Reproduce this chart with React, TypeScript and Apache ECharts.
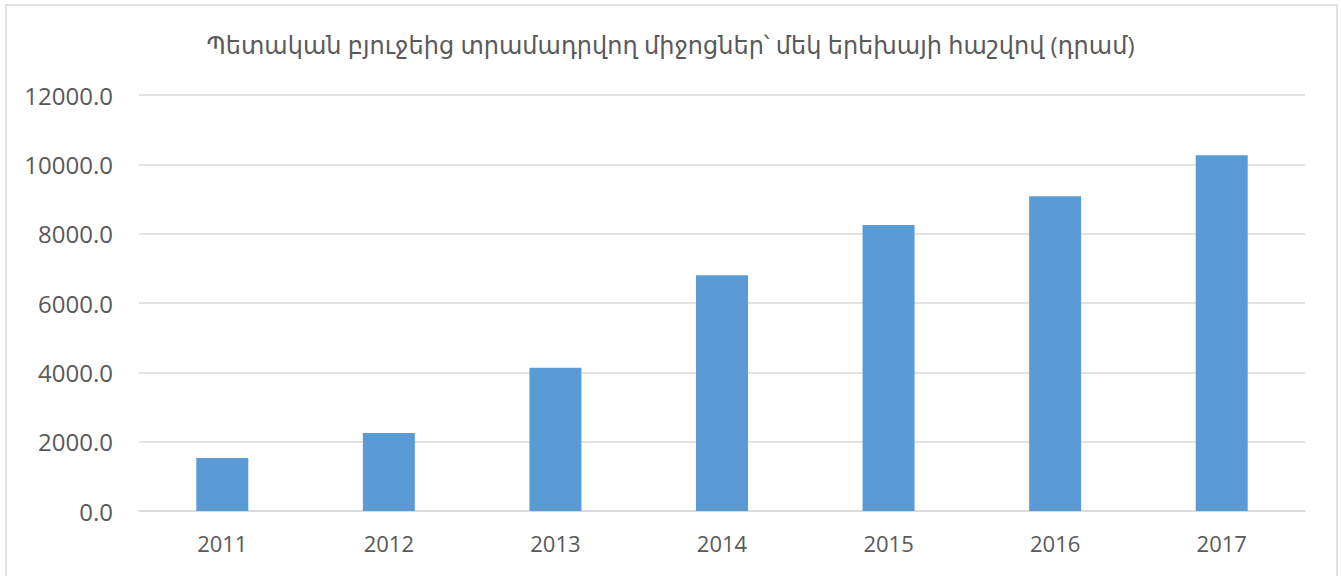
import React, { useEffect, useRef } from "react";
import * as echarts from "echarts";

const titleText = "Պետական բյուջեից տրամադրվող միջոցներ՝ մեկ երեխայի հաշվով (դրամ)";
const years = ["2011", "2012", "2013", "2014", "2015", "2016", "2017"];
const perChild = [1530, 2250, 4130, 6800, 8250, 9080, 10260];
const yMin = 0;
const yMax = 12000;
const yStep = 2000;

export default function App() {
  const ref = useRef<HTMLDivElement>(null);
  useEffect(() => {
    document.body.style.margin = "0";
    const chart = echarts.init(ref.current!, null, { renderer: "svg" });
    const font = "'Open Sans', 'DejaVu Sans', sans-serif";
    chart.setOption({
      animation: false,
      backgroundColor: "#ffffff",
      title: {
        text: titleText,
        left: "center",
        top: 27,
        textStyle: {
          fontFamily: font,
          fontSize: 24,
          fontWeight: "normal",
          color: "#595959",
        },
      },
      grid: { left: 139, right: 36, top: 95, bottom: 65, containLabel: false },
      xAxis: {
        type: "category",
        data: years,
        axisLine: { show: true, lineStyle: { color: "#d9d9d9", width: 1.5 } },
        axisTick: { show: false },
        axisLabel: {
          fontFamily: font,
          fontSize: 22,
          color: "#595959",
          margin: 21,
        },
      },
      yAxis: {
        type: "value",
        min: yMin,
        max: yMax,
        interval: yStep,
        axisLine: { show: false },
        axisTick: { show: false },
        splitLine: { lineStyle: { color: "#d9d9d9", width: 1.5 } },
        axisLabel: {
          fontFamily: font,
          fontSize: 24,
          color: "#595959",
          margin: 26,
          formatter: (v: number) => v.toFixed(1),
        },
      },
      series: [
        {
          type: "bar",
          data: perChild,
          barWidth: 52,
          itemStyle: { color: "#5b9bd5" },
        },
      ],
      graphic: [
        {
          type: "rect",
          shape: { x: 6, y: 5, width: 1331, height: 600 },
          style: { fill: "none", stroke: "#d9d9d9", lineWidth: 1.5 },
          silent: true,
        },
      ],
    });
    return () => chart.dispose();
  }, []);
  return <div ref={ref} style={{ width: 1341, height: 576 }} />;
}
